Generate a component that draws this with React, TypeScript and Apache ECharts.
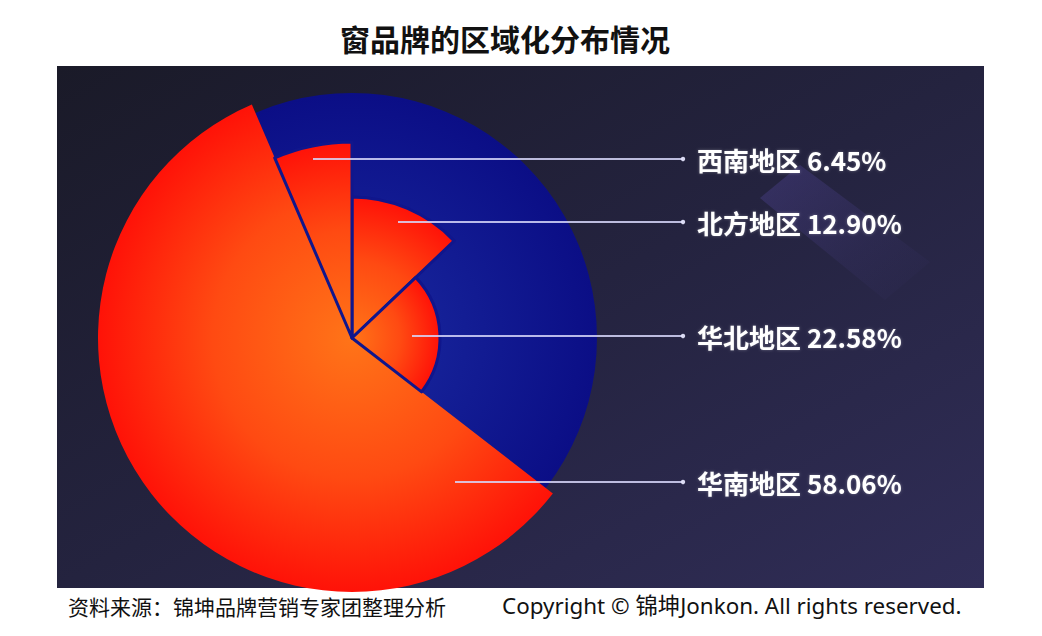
import { useEffect, useRef } from "react";
import * as echarts from "echarts";

// Regional share of window brands (clockwise from 12 o'clock)
const regions = ["北方地区", "华北地区", "华南地区", "西南地区"];
const shares = [12.9, 22.58, 58.06, 6.45];
// Each sector gets its own outer radius (px)
const sliceRadius = [141, 88, 254, 196];
// Label rows and where the leader line starts inside each sector
const labelRowY = [222, 336, 482, 159];
const lineStartX = [398, 412, 455, 313];
// Draw the big sector first so the smaller ones' outlines sit on top of it
const drawOrder = [2, 0, 1, 3];

const titleText = "窗品牌的区域化分布情况";
const sourceText = "资料来源：锦坤品牌营销专家团整理分析";
const copyrightText = "Copyright © 锦坤Jonkon. All rights reserved.";

const CX = 352;
const CY = 338;
const DISC_R = 245;
const LABEL_X = 697;
const LINE_END_X = 683;
const BLUE = "#10168c";

const CJK = '"Noto Sans CJK SC", "Noto Sans", sans-serif';

function sectorFill(r: number) {
  return new echarts.graphic.RadialGradient(
    CX,
    CY,
    r,
    [
      { offset: 0, color: "#ff7418" },
      { offset: 0.55, color: "#ff4a12" },
      { offset: 1, color: "#ff1208" },
    ],
    true
  );
}

function sliceSeries(k: number) {
  const biggest = shares[k] === Math.max(...shares);
  const data = regions.map((name, i) => {
    if (i !== k) {
      return {
        name,
        value: shares[i],
        itemStyle: { color: "rgba(0,0,0,0)", borderWidth: 0 },
        label: { show: false },
      };
    }
    return {
      name,
      value: shares[i],
      itemStyle: {
        color: sectorFill(sliceRadius[i]),
        borderColor: BLUE,
        borderWidth: biggest ? 0 : 3,
      },
      label: {
        show: true,
        formatter: (p: any) => `${p.name} ${Number(p.value).toFixed(2)}%`,
        color: "#ffffff",
        fontSize: 26,
        fontWeight: "bold",
        fontFamily: CJK,
        textShadowColor: "rgba(255,255,255,0.3)",
        textShadowBlur: 3,
      },
    };
  });
  return {
    type: "pie",
    center: [CX, CY],
    radius: [0, sliceRadius[k]],
    startAngle: 90,
    clockwise: true,
    silent: true,
    avoidLabelOverlap: false,
    labelLine: { show: false },
    z: 3,
    data,
    labelLayout: (p: any) => {
      if (p.dataIndex !== k) return {};
      return {
        x: LABEL_X,
        y: labelRowY[k],
        align: "left",
        verticalAlign: "middle",
        hideOverlap: false,
      };
    },
  };
}

export default function App() {
  const ref = useRef<HTMLDivElement>(null);

  useEffect(() => {
    if (!ref.current) return;
    const chart = echarts.init(ref.current, undefined, { renderer: "svg" });

    const leaders = labelRowY.flatMap((y, i) => [
      {
        type: "line",
        z: 50,
        shape: { x1: lineStartX[i], y1: y, x2: LINE_END_X, y2: y },
        style: { stroke: "rgba(215,215,250,0.85)", lineWidth: 2 },
      },
      {
        type: "circle",
        z: 50,
        shape: { cx: LINE_END_X, cy: y, r: 2.2 },
        style: { fill: "rgba(225,225,250,0.95)" },
      },
    ]);

    chart.setOption({
      animation: false,
      backgroundColor: "#ffffff",
      title: {
        text: titleText,
        left: 335,
        top: 18,
        textStyle: {
          fontFamily: '"Noto Sans CJK SC", serif',
          fontSize: 30,
          fontWeight: "bold",
          color: "#111111",
        },
      },
      graphic: [
        {
          type: "rect",
          z: 0,
          shape: { x: 57, y: 66, width: 927, height: 522 },
          style: {
            fill: new echarts.graphic.LinearGradient(0, 0, 1, 1, [
              { offset: 0, color: "#1a1a28" },
              { offset: 0.5, color: "#24233f" },
              { offset: 1, color: "#302d57" },
            ]),
          },
        },
        {
          type: "polygon",
          z: 1,
          shape: {
            points: [
              [760, 198],
              [800, 165],
              [930, 262],
              [885, 300],
            ],
          },
          style: {
            fill: new echarts.graphic.LinearGradient(0, 0, 1, 1, [
              { offset: 0, color: "rgba(85,72,160,0.38)" },
              { offset: 0.6, color: "rgba(85,72,160,0.12)" },
              { offset: 1, color: "rgba(85,72,160,0)" },
            ]),
          },
        },
        {
          type: "text",
          z: 10,
          style: {
            x: 68,
            y: 606,
            text: sourceText,
            fontFamily: '"Noto Sans CJK SC", serif',
            fontSize: 21,
            fill: "#111111",
            verticalAlign: "middle",
          },
        },
        {
          type: "text",
          z: 10,
          style: {
            x: 502,
            y: 605,
            text: copyrightText,
            fontFamily: '"Noto Sans", "Noto Sans CJK SC", sans-serif',
            fontSize: 22.4,
            fill: "#111111",
            verticalAlign: "middle",
          },
        },
        ...leaders,
      ],
      series: [
        {
          type: "pie",
          center: [CX, CY],
          radius: [0, DISC_R],
          silent: true,
          z: 2,
          label: { show: false },
          labelLine: { show: false },
          data: [
            {
              name: "disc",
              value: 1,
              itemStyle: {
                color: new echarts.graphic.RadialGradient(
                  CX,
                  CY,
                  DISC_R,
                  [
                    { offset: 0, color: "#1a2aa0" },
                    { offset: 1, color: "#0b0e86" },
                  ],
                  true
                ),
              },
            },
          ],
        },
        ...drawOrder.map((k) => sliceSeries(k)),
      ],
    });

    return () => chart.dispose();
  }, []);

  return (
    <div
      ref={ref}
      style={{ position: "absolute", left: 0, top: 0, width: 1042, height: 636 }}
    />
  );
}
